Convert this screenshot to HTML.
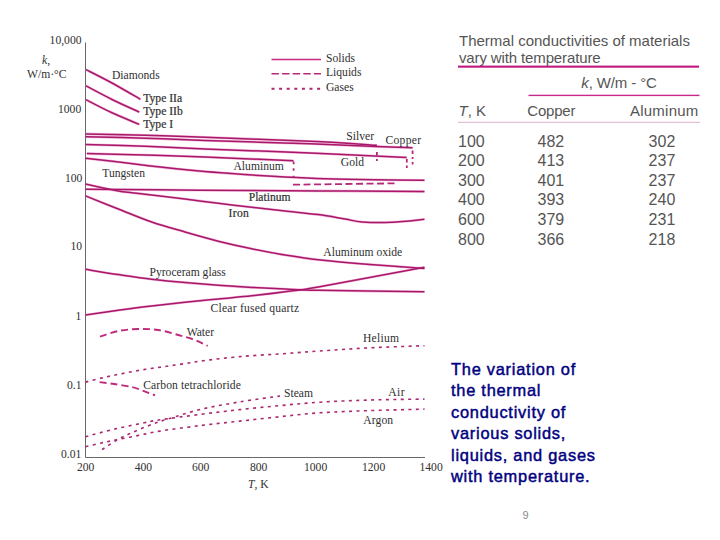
<!DOCTYPE html>
<html><head><meta charset="utf-8">
<style>
html,body{margin:0;padding:0;background:#fff;}
body{width:720px;height:540px;position:relative;overflow:hidden;}
svg{position:absolute;left:0;top:0;}
.s{font-family:"Liberation Serif",serif;font-size:11.6px;fill:#303030;}
.sb{stroke:#303030;stroke-width:0.22px;}
.t{font-family:"Liberation Sans",sans-serif;font-size:15px;fill:#555;}
.n{font-size:16px;}
.blue{position:absolute;left:451px;top:358.5px;font-family:"Liberation Sans",sans-serif;font-weight:normal;font-size:16.4px;line-height:21.6px;color:#000080;-webkit-text-stroke:0.45px #000080;letter-spacing:0.75px;}
</style></head><body>
<svg width="720" height="540" viewBox="0 0 720 540">
<path d="M85.5 42.5 V457.5 H425" fill="none" stroke="#686868" stroke-width="1"/>
<text class="s" x="49.6" y="44">10,000</text>
<text class="s" x="58" y="112.5">1000</text>
<text class="s" x="65" y="181.5">100</text>
<text class="s" x="70.5" y="250">10</text>
<text class="s" x="75.5" y="319.5">1</text>
<text class="s" x="67" y="389">0.1</text>
<text class="s" x="61" y="457.5">0.01</text>
<text class="s" x="42" y="64"><tspan font-style="italic">k</tspan>,</text>
<text class="s" x="27" y="78">W/m·°C</text>
<text class="s" x="77" y="470.5">200</text>
<text class="s" x="134.7" y="470.5">400</text>
<text class="s" x="192" y="470.5">600</text>
<text class="s" x="250" y="470.5">800</text>
<text class="s" x="304" y="470.5">1000</text>
<text class="s" x="362" y="470.5">1200</text>
<text class="s" x="419.5" y="470.5">1400</text>
<text class="s" x="248" y="488.3"><tspan font-style="italic">T</tspan>, K</text>
<path d="M271.5 59.5 H321" stroke="#c82a80" stroke-width="1.4" fill="none"/>
<path d="M271.5 73.7 H321" stroke="#b8287a" stroke-width="1.6" fill="none" stroke-dasharray="7.4 3.2"/>
<path d="M271.5 88.8 H321" stroke="#aa2870" stroke-width="2" fill="none" stroke-dasharray="3 4.6"/>
<text class="s" x="326" y="61.5">Solids</text>
<text class="s" x="326" y="76.3">Liquids</text>
<text class="s" x="326" y="90.8">Gases</text>
<g stroke="#e868b0" stroke-width="2.6" fill="none" opacity="0.45"><path d="M86.0 69.6 C90.3 71.8 102.9 78.0 112.0 83.0 C121.1 88.0 135.7 96.6 140.4 99.3"/><path d="M86.0 85.9 C90.3 88.2 103.1 95.1 112.0 99.5 C120.9 103.9 134.8 110.0 139.3 112.1"/><path d="M86.0 99.7 C90.3 101.9 103.1 108.7 112.0 112.8 C120.9 116.9 134.8 122.5 139.3 124.4"/><path d="M85.5 133.9 C95.4 134.1 125.1 134.6 145.0 135.2 C164.9 135.8 177.5 136.3 205.0 137.3 C232.5 138.3 281.4 140.0 310.0 141.3 C338.6 142.6 365.8 144.6 376.9 145.3"/><path d="M85.5 136.8 C95.4 137.0 125.1 137.6 145.0 138.2 C164.9 138.8 177.5 139.6 205.0 140.5 C232.5 141.4 281.4 142.8 310.0 143.8 C338.6 144.8 359.6 145.9 376.7 146.6 C393.8 147.2 406.6 147.5 412.6 147.7"/><path d="M85.5 144.5 C95.4 144.8 125.1 145.6 145.0 146.3 C164.9 147.1 177.5 147.9 205.0 149.0 C232.5 150.1 276.4 151.6 310.0 153.0 C343.6 154.4 390.6 156.8 406.7 157.5"/><path d="M86.8 153.6 C96.5 153.8 125.3 154.4 145.0 155.0 C164.7 155.6 180.2 156.0 205.0 157.0 C229.8 158.0 278.8 160.2 293.5 160.8"/><path d="M85.5 158.2 C92.1 159.0 111.8 161.2 125.0 162.8 C138.2 164.4 151.7 166.1 165.0 167.6 C178.3 169.1 191.7 170.4 205.0 171.6 C218.3 172.8 231.7 173.7 245.0 174.6 C258.3 175.5 271.7 176.3 285.0 177.0 C298.3 177.7 310.0 178.3 325.0 178.8 C340.0 179.3 358.4 179.6 375.0 179.8 C391.6 180.1 416.2 180.2 424.5 180.3"/><path d="M85.5 184.0 C91.0 185.2 107.3 189.2 118.3 191.0 C129.3 192.8 140.6 193.7 151.7 195.0 C162.8 196.3 173.9 197.6 185.0 199.0 C196.1 200.4 207.2 201.9 218.3 203.3 C229.4 204.7 240.6 206.0 251.7 207.3 C262.8 208.6 273.9 209.8 285.0 211.0 C296.1 212.2 308.3 213.3 318.3 214.6 C328.3 215.9 337.7 217.8 345.0 219.0 C352.3 220.2 354.2 221.4 362.0 222.0 C369.8 222.6 381.6 222.8 392.0 222.3 C402.4 221.9 419.1 219.8 424.5 219.3"/><path d="M85.5 189.2 C104.6 189.4 161.2 189.9 200.0 190.2 C238.8 190.5 280.6 190.7 318.0 190.9 C355.4 191.1 406.8 191.5 424.5 191.6"/><path d="M85.5 195.9 C91.0 198.1 107.3 204.7 118.3 209.0 C129.3 213.3 140.6 218.2 151.7 222.0 C162.8 225.8 173.9 228.8 185.0 232.0 C196.1 235.2 207.2 238.4 218.3 241.2 C229.4 244.0 240.6 246.5 251.7 248.8 C262.8 251.1 273.9 253.2 285.0 255.0 C296.1 256.8 304.1 258.2 318.3 259.8 C332.5 261.4 352.3 263.1 370.0 264.5 C387.7 265.9 415.4 267.8 424.5 268.5"/><path d="M85.5 269.3 C91.0 270.2 107.3 273.0 118.3 274.6 C129.3 276.2 140.6 277.9 151.7 279.2 C162.8 280.5 173.9 281.6 185.0 282.6 C196.1 283.6 207.2 284.5 218.3 285.3 C229.4 286.1 240.6 286.8 251.7 287.4 C262.8 288.0 273.9 288.5 285.0 289.0 C296.1 289.5 295.1 289.8 318.3 290.3 C341.6 290.8 406.8 291.6 424.5 291.8"/><path d="M85.5 315.0 C91.0 314.2 107.3 311.8 118.3 310.3 C129.3 308.8 140.6 307.3 151.7 306.0 C162.8 304.7 173.9 303.5 185.0 302.3 C196.1 301.1 207.2 300.1 218.3 299.0 C229.4 297.9 240.6 297.0 251.7 295.8 C262.8 294.6 273.9 293.3 285.0 291.8 C296.1 290.3 295.1 291.1 318.3 287.0 C341.6 282.9 406.8 270.6 424.5 267.3"/></g>
<g stroke="#a8186a" stroke-width="1.5" fill="none"><path d="M86.0 69.6 C90.3 71.8 102.9 78.0 112.0 83.0 C121.1 88.0 135.7 96.6 140.4 99.3"/><path d="M86.0 85.9 C90.3 88.2 103.1 95.1 112.0 99.5 C120.9 103.9 134.8 110.0 139.3 112.1"/><path d="M86.0 99.7 C90.3 101.9 103.1 108.7 112.0 112.8 C120.9 116.9 134.8 122.5 139.3 124.4"/><path d="M85.5 133.9 C95.4 134.1 125.1 134.6 145.0 135.2 C164.9 135.8 177.5 136.3 205.0 137.3 C232.5 138.3 281.4 140.0 310.0 141.3 C338.6 142.6 365.8 144.6 376.9 145.3"/><path d="M85.5 136.8 C95.4 137.0 125.1 137.6 145.0 138.2 C164.9 138.8 177.5 139.6 205.0 140.5 C232.5 141.4 281.4 142.8 310.0 143.8 C338.6 144.8 359.6 145.9 376.7 146.6 C393.8 147.2 406.6 147.5 412.6 147.7"/><path d="M85.5 144.5 C95.4 144.8 125.1 145.6 145.0 146.3 C164.9 147.1 177.5 147.9 205.0 149.0 C232.5 150.1 276.4 151.6 310.0 153.0 C343.6 154.4 390.6 156.8 406.7 157.5"/><path d="M86.8 153.6 C96.5 153.8 125.3 154.4 145.0 155.0 C164.7 155.6 180.2 156.0 205.0 157.0 C229.8 158.0 278.8 160.2 293.5 160.8"/><path d="M85.5 158.2 C92.1 159.0 111.8 161.2 125.0 162.8 C138.2 164.4 151.7 166.1 165.0 167.6 C178.3 169.1 191.7 170.4 205.0 171.6 C218.3 172.8 231.7 173.7 245.0 174.6 C258.3 175.5 271.7 176.3 285.0 177.0 C298.3 177.7 310.0 178.3 325.0 178.8 C340.0 179.3 358.4 179.6 375.0 179.8 C391.6 180.1 416.2 180.2 424.5 180.3"/><path d="M85.5 184.0 C91.0 185.2 107.3 189.2 118.3 191.0 C129.3 192.8 140.6 193.7 151.7 195.0 C162.8 196.3 173.9 197.6 185.0 199.0 C196.1 200.4 207.2 201.9 218.3 203.3 C229.4 204.7 240.6 206.0 251.7 207.3 C262.8 208.6 273.9 209.8 285.0 211.0 C296.1 212.2 308.3 213.3 318.3 214.6 C328.3 215.9 337.7 217.8 345.0 219.0 C352.3 220.2 354.2 221.4 362.0 222.0 C369.8 222.6 381.6 222.8 392.0 222.3 C402.4 221.9 419.1 219.8 424.5 219.3"/><path d="M85.5 189.2 C104.6 189.4 161.2 189.9 200.0 190.2 C238.8 190.5 280.6 190.7 318.0 190.9 C355.4 191.1 406.8 191.5 424.5 191.6"/><path d="M85.5 195.9 C91.0 198.1 107.3 204.7 118.3 209.0 C129.3 213.3 140.6 218.2 151.7 222.0 C162.8 225.8 173.9 228.8 185.0 232.0 C196.1 235.2 207.2 238.4 218.3 241.2 C229.4 244.0 240.6 246.5 251.7 248.8 C262.8 251.1 273.9 253.2 285.0 255.0 C296.1 256.8 304.1 258.2 318.3 259.8 C332.5 261.4 352.3 263.1 370.0 264.5 C387.7 265.9 415.4 267.8 424.5 268.5"/><path d="M85.5 269.3 C91.0 270.2 107.3 273.0 118.3 274.6 C129.3 276.2 140.6 277.9 151.7 279.2 C162.8 280.5 173.9 281.6 185.0 282.6 C196.1 283.6 207.2 284.5 218.3 285.3 C229.4 286.1 240.6 286.8 251.7 287.4 C262.8 288.0 273.9 288.5 285.0 289.0 C296.1 289.5 295.1 289.8 318.3 290.3 C341.6 290.8 406.8 291.6 424.5 291.8"/><path d="M85.5 315.0 C91.0 314.2 107.3 311.8 118.3 310.3 C129.3 308.8 140.6 307.3 151.7 306.0 C162.8 304.7 173.9 303.5 185.0 302.3 C196.1 301.1 207.2 300.1 218.3 299.0 C229.4 297.9 240.6 297.0 251.7 295.8 C262.8 294.6 273.9 293.3 285.0 291.8 C296.1 290.3 295.1 291.1 318.3 287.0 C341.6 282.9 406.8 270.6 424.5 267.3"/></g>
<path d="M376.9 152.0 V155.5 M376.9 159.0 V161.0" stroke="#b8287a" stroke-width="1.8" fill="none"/>
<path d="M412.6 150.5 V154.0 M412.6 157.0 V159.0 M412.6 162.0 V164.5" stroke="#b8287a" stroke-width="1.8" fill="none"/>
<path d="M406.8 159.0 V162.5 M406.8 165.5 V168.0" stroke="#b8287a" stroke-width="1.8" fill="none"/>
<path d="M293.6 161.5 V164.2 M293.6 168.3 V170.8 M293.6 175.8 V177.5" stroke="#b8287a" stroke-width="1.8" fill="none"/>
<path d="M293 184.7 L397.5 183.3" stroke="#b8287a" stroke-width="1.8" fill="none" stroke-dasharray="7 3.5"/>
<path d="M100.0 336.7 C103.0 335.8 111.9 332.3 118.3 331.0 C124.7 329.7 131.6 329.2 138.3 329.0 C145.0 328.8 151.6 329.0 158.3 330.0 C165.0 331.0 172.2 333.3 178.3 335.0 C184.4 336.7 190.1 338.2 195.0 340.0 C199.9 341.8 205.6 345.0 207.7 346.0" stroke="#c02a7c" stroke-width="1.9" fill="none" stroke-dasharray="7 4"/>
<path d="M99.6 382.1 C102.0 382.4 108.9 383.2 114.2 384.0 C119.5 384.8 126.8 385.9 131.7 387.0 C136.5 388.1 139.4 389.4 143.3 390.8 C147.2 392.2 153.1 394.6 155.0 395.3" stroke="#c02a7c" stroke-width="1.9" fill="none" stroke-dasharray="7 4"/>
<path d="M85.5 382.1 C88.8 381.3 98.4 378.7 105.0 377.2 C111.6 375.7 118.3 374.3 125.0 373.0 C131.7 371.7 138.3 370.5 145.0 369.4 C151.7 368.3 158.3 367.5 165.0 366.5 C171.7 365.5 178.3 364.6 185.0 363.6 C191.7 362.6 195.8 361.7 205.0 360.5 C214.2 359.3 227.5 357.7 240.0 356.6 C252.5 355.5 266.7 354.8 280.0 353.9 C293.3 353.0 305.0 352.0 320.0 351.0 C335.0 350.0 352.6 348.7 370.0 347.8 C387.4 346.9 415.4 346.1 424.5 345.7" stroke="#aa2870" stroke-width="1.6" fill="none" stroke-dasharray="3 4.4"/>
<path d="M102.0 449.7 C104.3 448.2 111.5 443.1 116.0 440.5 C120.5 437.9 124.4 436.1 128.7 434.1 C133.0 432.1 137.4 430.2 142.0 428.3 C146.6 426.4 151.7 424.4 156.0 422.8 C160.3 421.2 160.7 421.2 168.0 419.0 C175.3 416.8 188.0 412.4 200.0 409.5 C212.0 406.6 226.7 404.1 240.0 401.8 C253.3 399.6 273.3 397.0 280.0 396.0" stroke="#aa2870" stroke-width="1.6" fill="none" stroke-dasharray="3 4.4"/>
<path d="M85.5 436.7 C90.5 435.4 105.5 431.2 115.3 428.9 C125.1 426.6 137.0 424.3 144.2 422.8 C151.4 421.3 149.4 421.4 158.7 420.0 C168.0 418.6 186.4 416.1 200.0 414.4 C213.6 412.7 226.7 411.1 240.0 409.6 C253.3 408.1 266.7 406.8 280.0 405.6 C293.3 404.4 305.0 403.1 320.0 402.2 C335.0 401.3 352.6 400.5 370.0 400.0 C387.4 399.5 415.4 399.2 424.5 399.1" stroke="#aa2870" stroke-width="1.6" fill="none" stroke-dasharray="3 4.4"/>
<path d="M85.5 446.7 C88.2 446.1 96.4 444.1 101.4 443.0 C106.4 441.9 109.3 441.2 115.3 440.0 C121.3 438.8 130.2 437.1 137.6 435.6 C145.0 434.1 149.4 432.8 159.8 431.1 C170.2 429.4 186.6 427.3 200.0 425.6 C213.4 423.9 226.7 422.6 240.0 421.1 C253.3 419.6 266.7 418.1 280.0 416.7 C293.3 415.3 305.0 413.8 320.0 412.8 C335.0 411.8 352.6 411.2 370.0 410.6 C387.4 410.0 415.4 409.4 424.5 409.1" stroke="#aa2870" stroke-width="1.6" fill="none" stroke-dasharray="3 4.4"/>
<text class="s" x="112" y="79">Diamonds</text>
<text class="s sb" x="143.3" y="101.7">Type IIa</text>
<text class="s sb" x="143.3" y="114.5">Type IIb</text>
<text class="s sb" x="143.3" y="128.3">Type I</text>
<text class="s" x="346.3" y="140.2">Silver</text>
<text class="s" x="385.4" y="143.8" textLength="35.8">Copper</text>
<text class="s" x="340.8" y="165.8">Gold</text>
<text class="s" x="233.5" y="170">Aluminum</text>
<text class="s" x="102.3" y="176.9">Tungsten</text>
<text class="s sb" x="248.7" y="201.3">Platinum</text>
<text class="s sb" x="228.6" y="216.7" textLength="20.2">Iron</text>
<text class="s" x="323.3" y="256.2">Aluminum oxide</text>
<text class="s" x="149.5" y="275.7">Pyroceram glass</text>
<text class="s" x="210.6" y="311.7" textLength="88.6">Clear fused quartz</text>
<text class="s" x="186.7" y="336">Water</text>
<text class="s" x="143.2" y="388.5" textLength="97.6">Carbon tetrachloride</text>
<text class="s" x="363" y="341.5" textLength="36">Helium</text>
<text class="s" x="284" y="397">Steam</text>
<text class="s" x="388.3" y="395.7" textLength="16.2">Air</text>
<text class="s" x="363.3" y="423.5" textLength="29.8">Argon</text>
<text class="t" x="459" y="46.2">Thermal conductivities of materials</text>
<text class="t" x="459" y="62.5" textLength="141.6">vary with temperature</text>
<rect x="458" y="65.6" width="241" height="2.1" fill="#c01880"/>
<text class="t" x="581.3" y="88" font-size="14.5" textLength="75.6"><tspan font-style="italic">k</tspan>, W/m - °C</text>
<rect x="528.5" y="94.7" width="171" height="1.4" fill="#c8288a"/>
<text class="t" x="458.5" y="115.8"><tspan font-style="italic">T</tspan>, K</text>
<text class="t" x="527.3" y="115.8" textLength="48.1">Copper</text>
<text class="t" x="630" y="115.8" textLength="68.3">Aluminum</text>
<rect x="458" y="121.8" width="242" height="0.9" fill="#d4a4c4"/>
<text class="t n" x="458" y="146.6">100</text>
<text class="t n" x="537.5" y="146.6">482</text>
<text class="t n" x="648.6" y="146.6">302</text>
<text class="t n" x="458" y="166.2">200</text>
<text class="t n" x="537.5" y="166.2">413</text>
<text class="t n" x="648.6" y="166.2">237</text>
<text class="t n" x="458" y="185.8">300</text>
<text class="t n" x="537.5" y="185.8">401</text>
<text class="t n" x="648.6" y="185.8">237</text>
<text class="t n" x="458" y="205.4">400</text>
<text class="t n" x="537.5" y="205.4">393</text>
<text class="t n" x="648.6" y="205.4">240</text>
<text class="t n" x="458" y="225.0">600</text>
<text class="t n" x="537.5" y="225.0">379</text>
<text class="t n" x="648.6" y="225.0">231</text>
<text class="t n" x="458" y="244.6">800</text>
<text class="t n" x="537.5" y="244.6">366</text>
<text class="t n" x="648.6" y="244.6">218</text>
<text x="522.5" y="519" font-family="Liberation Sans" font-size="11" fill="#8a8a8a">9</text>
</svg>
<div class="blue">The variation of<br>the thermal<br>conductivity of<br>various solids,<br>liquids, and gases<br>with temperature.</div>
</body></html>
